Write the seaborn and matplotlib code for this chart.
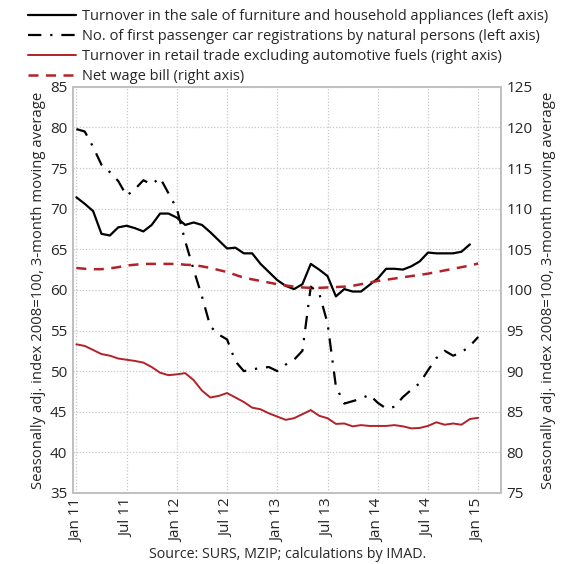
import numpy as np
import pandas as pd
import matplotlib
matplotlib.use("Agg")
import matplotlib.pyplot as plt
import seaborn as sns

# monthly series, Jan 2011 - Jan 2015 (3-month moving averages, 2008=100)
months = np.arange(49)
tick_pos = [0, 6, 12, 18, 24, 30, 36, 42, 48]
tick_labels = ["Jan 11", "Jul 11", "Jan 12", "Jul 12", "Jan 13",
               "Jul 13", "Jan 14", "Jul 14", "Jan 15"]

# left axis
furniture = [71.4, 70.6, 69.7, 66.9, 66.7, 67.7, 67.9, 67.6, 67.2, 68.0, 69.4, 69.4,
             68.9, 68.0, 68.3, 68.0, 67.1, 66.1, 65.1, 65.2, 64.5, 64.5, 63.2, 62.2,
             61.2, 60.5, 60.1, 60.7, 63.2, 62.5, 61.7, 59.2, 60.1, 59.8, 59.8, 60.6,
             61.4, 62.6, 62.6, 62.5, 62.9, 63.5, 64.6, 64.5, 64.5, 64.5, 64.7, 65.6]
cars = [79.8, 79.5, 77.6, 75.4, 74.5, 73.4, 71.6, 72.4, 73.5, 73.0, 73.8, 71.9,
        70.0, 66.0, 62.5, 59.2, 55.5, 54.5, 53.9, 51.2, 50.0, 50.2, 50.4, 50.5,
        50.0, 50.8, 51.4, 52.5, 60.4, 59.6, 55.9, 48.1, 46.0, 46.3, 46.6, 47.1,
        46.1, 45.4, 45.6, 46.8, 47.7, 48.5, 50.1, 51.6, 52.5, 51.9, 52.3, 53.1, 54.2]

# right axis
retail = [93.3, 93.1, 92.6, 92.1, 91.9, 91.55, 91.4, 91.25, 91.05, 90.5, 89.8, 89.5,
          89.6, 89.75, 88.9, 87.6, 86.75, 86.95, 87.3, 86.75, 86.2, 85.5, 85.3, 84.8,
          84.4, 84.0, 84.2, 84.7, 85.2, 84.5, 84.2, 83.5, 83.55, 83.2, 83.35, 83.25,
          83.25, 83.25, 83.35, 83.2, 82.95, 83.0, 83.25, 83.7, 83.4, 83.55, 83.4, 84.1, 84.25]
wages = [102.7, 102.6, 102.55, 102.55, 102.65, 102.8, 103.0, 103.1, 103.2, 103.2, 103.2, 103.2,
         103.2, 103.1, 103.05, 102.9, 102.7, 102.45, 102.2, 101.85, 101.5, 101.3, 101.1, 100.9,
         100.7, 100.55, 100.4, 100.3, 100.25, 100.25, 100.3, 100.35, 100.4, 100.5, 100.7, 100.9,
         101.1, 101.25, 101.4, 101.55, 101.7, 101.85, 102.0, 102.2, 102.4, 102.6, 102.8, 103.0, 103.25]

sns.set_style("white")
plt.rcParams['font.family'] = ['Open Sans', 'DejaVu Sans']

red = "#b22228"
fig = plt.figure(figsize=(5.75, 5.64), dpi=100)
ax = fig.add_axes([0.127, 0.126, 0.744, 0.72])
ax2 = ax.twinx()

sns.lineplot(x=months[:len(furniture)], y=furniture, ax=ax, color="black", lw=1.6,
             label="Turnover in the sale of furniture and household appliances (left axis)")
sns.lineplot(x=months, y=cars, ax=ax, color="black", lw=1.6, linestyle=(0, (6, 4, 1, 4)),
             label="No. of first passenger car registrations by natural persons (left axis)")
sns.lineplot(x=months, y=retail, ax=ax2, color=red, lw=1.4,
             label="Turnover in retail trade excluding automotive fuels (right axis)")
sns.lineplot(x=months, y=wages, ax=ax2, color=red, lw=1.8, linestyle=(0, (4, 3)),
             label="Net wage bill (right axis)")

ax.set_xlim(-0.4, 50.7)
ax.set_ylim(35, 85)
ax2.set_ylim(75, 125)
ax.set_yticks(range(35, 90, 5))
ax2.set_yticks(range(75, 130, 5))
ax.set_xticks(tick_pos)
ax.set_xticklabels(tick_labels, rotation=90)

ax.grid(True, color="#c8c8c8", linestyle=(0, (1, 1.5)), lw=0.9)
ax2.grid(False)
for a in (ax, ax2):
    a.tick_params(length=0, labelsize=11, pad=4)
    for s in a.spines.values():
        s.set_color("#c0c0c0")
        s.set_linewidth(1.3)

ylab = "Seasonally adj. index 2008=100, 3-month moving average"
ax.set_ylabel(ylab, fontsize=10.7, labelpad=3)
ax2.set_ylabel(ylab, fontsize=10.7, rotation=90, labelpad=6)

# merge legends into one block above the plot
h1, l1 = ax.get_legend_handles_labels()
h2, l2 = ax2.get_legend_handles_labels()
ax.get_legend().remove()
ax2.get_legend().remove()
fig.legend(h1 + h2, l1 + l2, loc="upper left", bbox_to_anchor=(0.034, 0.999),
           frameon=False, fontsize=10.5, handlelength=3.3, handletextpad=0.4,
           labelspacing=0.33, borderaxespad=0.2)

fig.text(0.5, 0.01, "Source: SURS, MZIP; calculations by IMAD.", ha="center",
         fontsize=10.3)

fig.savefig("out.png", dpi=100)
